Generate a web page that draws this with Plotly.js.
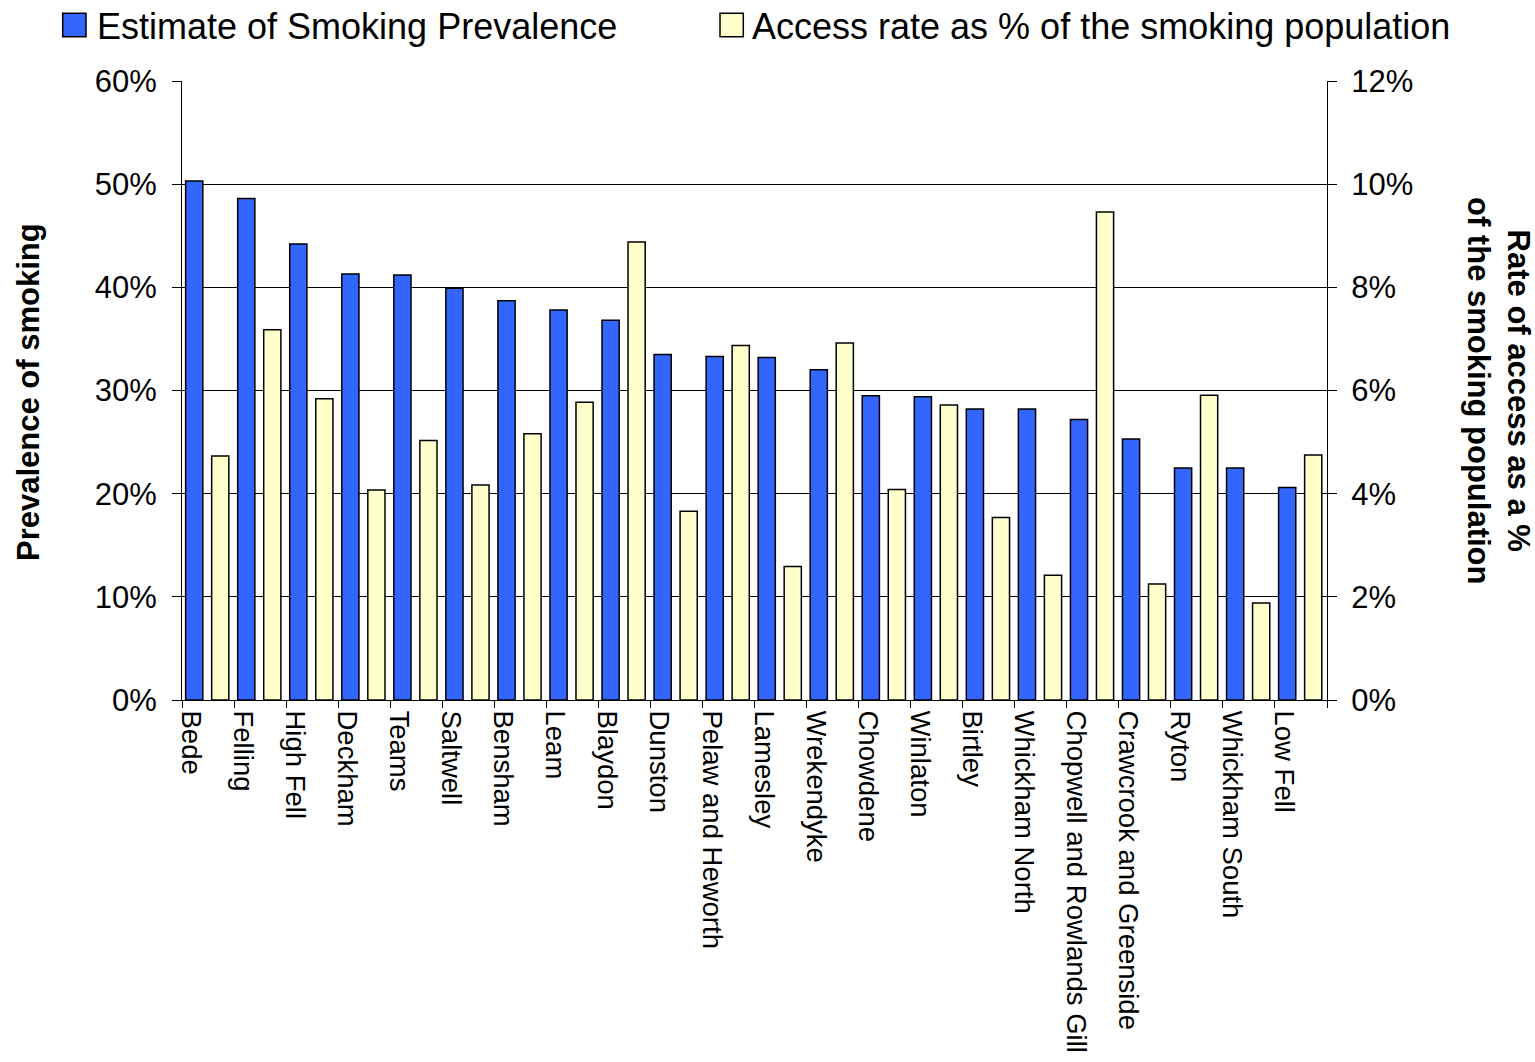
<!DOCTYPE html>
<html>
<head>
<meta charset="utf-8">
<script src="https://cdn.plot.ly/plotly-3.0.1.min.js"></script>
<style>
  html, body { margin: 0; padding: 0; background: #ffffff; }
  #chart { width: 1535px; height: 1062px; }
</style>
</head>
<body>
<div id="chart"></div>
<script>
// Wards, in order of estimated smoking prevalence
const wards = [
  'Bede', 'Felling', 'High Fell', 'Deckham', 'Teams', 'Saltwell', 'Bensham',
  'Leam', 'Blaydon', 'Dunston', 'Pelaw and Heworth', 'Lamesley', 'Wrekendyke',
  'Chowdene', 'Winlaton', 'Birtley', 'Whickham North', 'Chopwell and Rowlands Gill',
  'Crawcrook and Greenside', 'Ryton', 'Whickham South', 'Low Fell'
];

// Estimated smoking prevalence (%), left axis
const prevalence = [
  50.3, 48.6, 44.2, 41.3, 41.2, 39.9, 38.7,
  37.8, 36.8, 33.5, 33.3, 33.2, 32.0,
  29.5, 29.4, 28.2, 28.2, 27.2,
  25.3, 22.5, 22.5, 20.6
];

// Access rate as % of the smoking population, right axis
const accessRate = [
  4.73, 7.18, 5.84, 4.07, 5.03, 4.17, 5.16,
  5.77, 8.88, 3.66, 6.87, 2.59, 6.92,
  4.08, 5.72, 3.54, 2.42, 9.46,
  2.25, 5.91, 1.88, 4.75
];

const prevalenceName = 'Estimate of Smoking Prevalence';
const accessName = 'Access rate as % of the smoking population';
const leftTitle = 'Prevalence of smoking';
const rightTitle = ['Rate of access as a %', 'of the smoking population'];

const FONT = 'Liberation Sans, Arial, Helvetica, sans-serif';
const BLUE = '#3366FF';
const CREAM = '#FFFFCC';

const W = 1535, H = 1062;
const M = { l: 182, r: 208, t: 81, b: 362 };
const plotW = W - M.l - M.r;
const plotH = H - M.t - M.b;
// page pixel -> paper coordinate
const px = x => (x - M.l) / plotW;
const py = y => (H - M.b - y) / plotH;

const barLine = { color: '#000000', width: 1.5 };

const traces = [
  {
    type: 'bar', name: prevalenceName, x: wards, y: prevalence,
    xaxis: 'x', yaxis: 'y',
    width: 0.33, offset: -0.43,
    marker: { color: BLUE, line: barLine },
    showlegend: false, hoverinfo: 'skip'
  },
  {
    type: 'bar', name: accessName, x: wards, y: accessRate,
    xaxis: 'x', yaxis: 'y2',
    width: 0.33, offset: 0.07,
    marker: { color: CREAM, line: barLine },
    showlegend: false, hoverinfo: 'skip'
  }
];

const tickFont = { family: FONT, size: 31, color: '#000000' };

// Legend drawn as key squares + labels across the top
const legendItems = [
  { name: prevalenceName, color: BLUE, x0: 62.7, x1: 86, tx: 95 },
  { name: accessName, color: CREAM, x0: 720, x1: 743.3, tx: 750 }
];

const shapes = legendItems.map(it => ({
  type: 'rect', xref: 'paper', yref: 'paper',
  x0: px(it.x0), x1: px(it.x1), y0: py(36.7), y1: py(13.3),
  fillcolor: it.color, line: { color: '#000000', width: 1.5 }
}));

const annotations = legendItems.map(it => ({
  xref: 'paper', yref: 'paper', x: px(it.tx), y: py(26),
  xanchor: 'left', yanchor: 'middle', showarrow: false,
  text: it.name, font: { family: FONT, size: 36, color: '#000000' }
}));

annotations.push({
  xref: 'paper', yref: 'paper', x: px(28), y: py(392),
  xanchor: 'center', yanchor: 'middle', showarrow: false, textangle: -90,
  text: '<b>' + leftTitle + '</b>',
  font: { family: FONT, size: 31, color: '#000000' }
});

annotations.push({
  xref: 'paper', yref: 'paper', x: px(1499), y: py(390),
  xanchor: 'center', yanchor: 'middle', showarrow: false, textangle: 90,
  text: '<b>' + rightTitle.join('<br>') + '</b>',
  font: { family: FONT, size: 31, color: '#000000' }
});

const layout = {
  width: W, height: H,
  margin: { l: M.l, r: M.r, t: M.t, b: M.b, pad: 0 },
  paper_bgcolor: '#ffffff', plot_bgcolor: '#ffffff',
  font: { family: FONT, color: '#000000' },
  showlegend: false,
  barmode: 'group',
  xaxis: {
    type: 'category', range: [-0.5, wards.length - 0.5],
    tickson: 'boundaries', ticks: 'outside', ticklen: 7, tickwidth: 1, tickcolor: '#000000',
    showline: true, linecolor: '#000000', linewidth: 1,
    showgrid: false, zeroline: false,
    tickangle: 90, ticklabelshift: -17, ticklabelstandoff: 4,
    tickfont: { family: FONT, size: 27.5, color: '#000000' },
    fixedrange: true
  },
  yaxis: {
    range: [0, 60], dtick: 10, ticksuffix: '%',
    showgrid: true, gridcolor: '#000000', gridwidth: 1,
    zeroline: false, showline: true, linecolor: '#000000', linewidth: 1,
    ticks: 'outside', ticklen: 9, tickwidth: 1, tickcolor: '#000000',
    ticklabelstandoff: 9,
    tickfont: tickFont, fixedrange: true
  },
  yaxis2: {
    overlaying: 'y', side: 'right',
    range: [0, 12], dtick: 2, ticksuffix: '%',
    showgrid: false, zeroline: false,
    showline: true, linecolor: '#000000', linewidth: 1,
    ticks: 'outside', ticklen: 9, tickwidth: 1, tickcolor: '#000000',
    ticklabelstandoff: 8,
    tickfont: tickFont, fixedrange: true
  },
  shapes: shapes,
  annotations: annotations
};

Plotly.newPlot('chart', traces, layout, { displayModeBar: false, staticPlot: true });
</script>
</body>
</html>
